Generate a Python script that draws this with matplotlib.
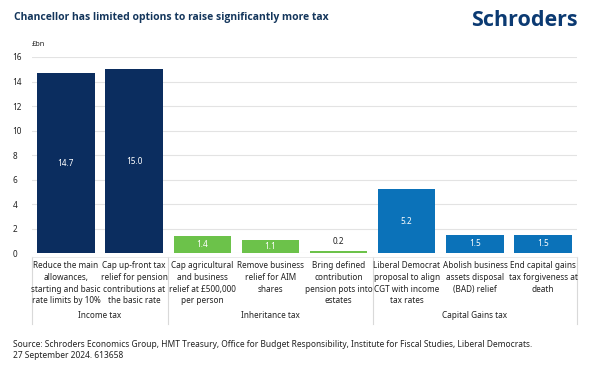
import matplotlib
matplotlib.use("Agg")
import matplotlib.pyplot as plt
import matplotlib.transforms as mtransforms

plt.rcParams["font.family"] = ["Noto Sans", "DejaVu Sans"]

labels = [
    "Reduce the main\nallowances,\nstarting and basic\nrate limits by 10%",
    "Cap up-front tax\nrelief for pension\ncontributions at\nthe basic rate",
    "Cap agricultural\nand business\nrelief at £500,000\nper person",
    "Remove business\nrelief for AIM\nshares",
    "Bring defined\ncontribution\npension pots into\nestates",
    "Liberal Democrat\nproposal to align\nCGT with income\ntax rates",
    "Abolish business\nassets disposal\n(BAD) relief",
    "End capital gains\ntax forgiveness at\ndeath",
]
values = [14.7, 15.0, 1.4, 1.1, 0.2, 5.2, 1.5, 1.5]
groups = ["Income tax", "Income tax", "Inheritance tax", "Inheritance tax",
          "Inheritance tax", "Capital Gains tax", "Capital Gains tax", "Capital Gains tax"]
group_names = ["Income tax", "Inheritance tax", "Capital Gains tax"]
yticks = [0, 2, 4, 6, 8, 10, 12, 14, 16]

colours = {"Income tax": "#0b2d5f", "Inheritance tax": "#6cc24a", "Capital Gains tax": "#0b72b9"}
fs = 5.9
txt = "#222222"

fig = plt.figure(figsize=(6, 3.8), dpi=100)
ax = fig.add_axes([0.053, 0.334, 0.909, 0.516])

x = list(range(len(values)))
ax.bar(x, values, width=0.84, color=[colours[g] for g in groups], zorder=2)
ax.set_xlim(-0.5, len(values) - 0.5)
ax.set_ylim(0, 16)
ax.set_yticks(yticks)
ax.set_yticklabels([str(t) for t in yticks], fontsize=fs, color=txt)
ax.tick_params(axis="y", length=0, pad=14)
for lab in ax.get_yticklabels():
    lab.set_horizontalalignment("left")
ax.set_xticks([])
ax.grid(axis="y", color="#e3e3e3", linewidth=0.8, zorder=0)
for s in ax.spines.values():
    s.set_visible(False)

for i, v in enumerate(values):
    if v < 0.5:
        ax.text(i, v + 0.35, f"{v:.1f}", ha="center", va="bottom", fontsize=fs, color=txt)
    else:
        ax.text(i, v / 2, f"{v:.1f}", ha="center", va="center", fontsize=fs, color="white")

trans = mtransforms.blended_transform_factory(ax.transData, ax.transAxes)
for i, lab in enumerate(labels):
    ax.text(i, -0.04, lab, transform=trans, ha="center", va="top", fontsize=fs,
            color=txt, linespacing=1.4)

# group labels and separators
starts = [groups.index(g) for g in group_names]
ends = [len(groups) - 1 - groups[::-1].index(g) for g in group_names]
for g, a, b in zip(group_names, starts, ends):
    ax.text((a + b) / 2, -0.318, g, transform=trans, ha="center", va="center",
            fontsize=fs, color=txt)
seps = [-0.5] + [b + 0.5 for b in ends]
for sx in seps:
    ax.plot([sx, sx], [-0.02, -0.36], transform=trans, color="#d9d9d9",
            linewidth=0.8, clip_on=False)
ax.plot([-0.5, len(values) - 0.5], [-0.02, -0.02], transform=trans, color="#e6e6e6",
        linewidth=0.6, clip_on=False)

fig.text(0.053, 0.875, "£bn", fontsize=fs - 0.6, color=txt, ha="left", va="bottom")
fig.text(0.023, 0.955, "Chancellor has limited options to raise significantly more tax",
         fontsize=7.5, fontweight="bold", family=["Open Sans", "DejaVu Sans"],
         color="#14365c", ha="left", va="center")
fig.text(0.963, 0.945, "Schroders", fontsize=15.5, fontweight="bold",
         family=["Open Sans", "DejaVu Sans"], color="#0b3a72", ha="right", va="center")
fig.text(0.022, 0.08, "Source: Schroders Economics Group, HMT Treasury, Office for Budget "
         "Responsibility, Institute for Fiscal Studies, Liberal Democrats.\n"
         "27 September 2024. 613658", fontsize=6.05, color=txt, ha="left", va="center",
         linespacing=1.3)

fig.savefig("out.png", dpi=100)
